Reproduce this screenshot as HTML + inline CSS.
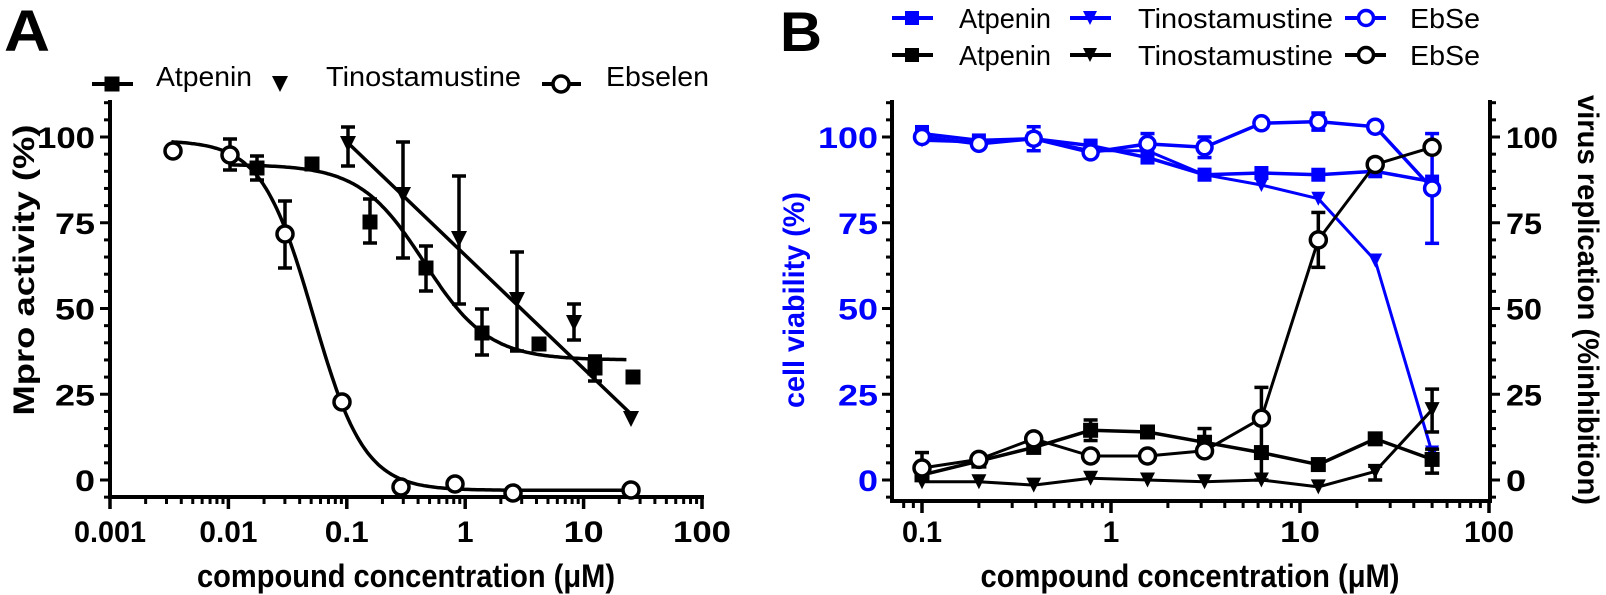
<!DOCTYPE html>
<html><head><meta charset="utf-8"><style>
html,body{margin:0;padding:0;background:#fff;}
svg{display:block;font-family:"Liberation Sans",Arial,sans-serif;}
</style></head><body>
<svg id="s" width="1606" height="595" viewBox="0 0 1606 595" xmlns="http://www.w3.org/2000/svg">
<text x="4" y="51" font-size="58" font-weight="bold" textLength="46" lengthAdjust="spacingAndGlyphs">A</text>
<text x="780" y="51" font-size="56" font-weight="bold" textLength="42" lengthAdjust="spacingAndGlyphs">B</text>
<text x="156" y="86" font-size="28" textLength="96" lengthAdjust="spacingAndGlyphs">Atpenin</text>
<text x="326" y="86" font-size="28" textLength="195" lengthAdjust="spacingAndGlyphs">Tinostamustine</text>
<text x="606" y="86" font-size="28" textLength="103" lengthAdjust="spacingAndGlyphs">Ebselen</text>
<text x="959" y="28" font-size="28" textLength="92" lengthAdjust="spacingAndGlyphs">Atpenin</text>
<text x="1138" y="28" font-size="28" textLength="195" lengthAdjust="spacingAndGlyphs">Tinostamustine</text>
<text x="1410" y="28" font-size="28" textLength="70" lengthAdjust="spacingAndGlyphs">EbSe</text>
<text x="959" y="65" font-size="28" textLength="92" lengthAdjust="spacingAndGlyphs">Atpenin</text>
<text x="1138" y="65" font-size="28" textLength="195" lengthAdjust="spacingAndGlyphs">Tinostamustine</text>
<text x="1410" y="65" font-size="28" textLength="70" lengthAdjust="spacingAndGlyphs">EbSe</text>
<text x="406" y="587" font-size="32" font-weight="bold" text-anchor="middle" textLength="418" lengthAdjust="spacingAndGlyphs">compound concentration (μM)</text>
<text x="1190" y="587" font-size="32" font-weight="bold" text-anchor="middle" textLength="419" lengthAdjust="spacingAndGlyphs">compound concentration (μM)</text>
<text transform="translate(34,270) rotate(-90)" font-size="30" font-weight="bold" text-anchor="middle" textLength="291" lengthAdjust="spacingAndGlyphs">Mpro activity (%)</text>
<text transform="translate(804,300) rotate(-90)" font-size="30" font-weight="bold" fill="#0000ff" text-anchor="middle" textLength="216" lengthAdjust="spacingAndGlyphs">cell viability (%)</text>
<text transform="translate(1578,300) rotate(90)" font-size="30" font-weight="bold" text-anchor="middle" textLength="410" lengthAdjust="spacingAndGlyphs">virus replication (%inhibition)</text>
<g id="g"></g>
</svg>
<script>
var out=[];
function L(x1,y1,x2,y2,c,w){out.push('<line x1="'+x1+'" y1="'+y1+'" x2="'+x2+'" y2="'+y2+'" stroke="'+c+'" stroke-width="'+w+'"/>');}
function T(x,y,s,anc,c,len){out.push('<text x="'+x+'" y="'+y+'" font-size="30" font-weight="bold" text-anchor="'+anc+'" fill="'+c+'"'+(len?' textLength="'+len+'" lengthAdjust="spacingAndGlyphs"':'')+'>'+s+'</text>');}
function P(pts,c,w){out.push('<polyline points="'+pts.map(function(p){return p[0].toFixed(1)+','+p[1].toFixed(1)}).join(' ')+'" fill="none" stroke="'+c+'" stroke-width="'+w+'" stroke-linejoin="round"/>');}
function sq(x,y,s,c){out.push('<rect x="'+(x-s/2)+'" y="'+(y-s/2)+'" width="'+s+'" height="'+s+'" fill="'+c+'"/>');}
function ci(x,y,r,c,w){out.push('<circle cx="'+x+'" cy="'+y+'" r="'+r+'" fill="#fff" stroke="'+c+'" stroke-width="'+w+'"/>');}
function tr(x,y,s,c){out.push('<polygon points="'+(x-s/2)+','+(y-s/2)+' '+(x+s/2)+','+(y-s/2)+' '+x+','+(y+s/2)+'" fill="'+c+'"/>');}
function eb(x,y1,y2,c,w){L(x,y1,x,y2,c,w);L(x-7,y1,x+7,y1,c,w);L(x-7,y2,x+7,y2,c,w);}
var Y=function(v){return 480-3.43*v;};
var AX=function(x){return 110+118.4*(Math.log10(x)+3);};
L(110,100,110,499,'#000',4);L(108,497,704,497,'#000',4);
for(var v=-5;v<=110;v+=5){var maj=(v%25==0&&v>=0);L(maj?100:104,Y(v),110,Y(v),'#000',3);if(maj)T(95,Y(v)+11,v,'end','#000',v==100?58:(v==0?20:40));}
for(var d=-3;d<=2;d++){L(AX(Math.pow(10,d)),497,AX(Math.pow(10,d)),509,'#000',3.5);
 var lab=['0.001','0.01','0.1','1','10','100'][d+3];T(AX(Math.pow(10,d)),542,lab,'middle','#000',[72,58,44,0,40,58][d+3]||null);
 if(d<2)for(var k=2;k<10;k++)L(AX(k*Math.pow(10,d)),497,AX(k*Math.pow(10,d)),504,'#000',3);}
function hill(top,bot,ic,h){return function(x){return bot+(top-bot)/(1+Math.pow(x/ic,h));};}
function curve(f,x0,x1){var p=[];for(var i=0;i<=200;i++){var lx=Math.log10(x0)+(Math.log10(x1)-Math.log10(x0))*i/200;var x=Math.pow(10,lx);p.push([AX(x),Y(f(x))]);}return p;}
P(curve(hill(99,-3,0.052,2),0.0033,25),'#000',3.5);
P(curve(hill(92,35,0.45,1.6),0.01,23),'#000',3.5);
P([[347,142],[631,414]],'#000',3.5);
eb(230,139,170,'#000',3.5);eb(285,201,268,'#000',3.5);
[[173,151],[230,155],[285,234],[342,402],[401,487],[455,484],[513,493],[631,490]].forEach(function(p){ci(p[0],p[1],8,'#000',3.5);});
eb(257,156,180,'#000',3.5);eb(370,199,243,'#000',3.5);eb(426,246,291,'#000',3.5);eb(482,309,355,'#000',3.5);eb(595,356,381,'#000',3.5);
[[257,168],[312,164],[370,222],[426,268],[482,333],[539,344],[595,368],[633,377]].forEach(function(p){sq(p[0],p[1],15,'#000');});
eb(348,127,166,'#000',3.5);eb(403,142,258,'#000',3.5);eb(459,176,304,'#000',3.5);eb(517,252,351,'#000',3.5);eb(574,304,340,'#000',3.5);
[[348,144],[403,195],[459,239],[517,300],[574,323],[631,419]].forEach(function(p){tr(p[0],p[1],16,'#000');});
L(92,84,133,84,'#000',4);sq(112,84,15,'#000');tr(280,84,16,'#000');L(542,84,581,84,'#000',4);ci(561,84,8,'#000',3.5);
var BX=function(x){return 922+189*(Math.log10(x)+1);};
var B='#0000ff';
L(892,100,892,503,'#000',4);L(1490,100,1490,503,'#000',4);L(890,501,1492,501,'#000',4);
for(var v=-5;v<=110;v+=5){var maj=(v%25==0&&v>=0);L(maj?882:886,Y(v),892,Y(v),'#000',3);L(1490,Y(v),maj?1500:1496,Y(v),'#000',3);
 if(maj){T(878,Y(v)+11,v,'end',B,v==100?60:(v==0?20:40));T(1506,Y(v)+11,v,'start','#000',v==100?52:(v==0?20:36));}}
for(var d=-1;d<=2;d++){var xx=BX(Math.pow(10,d));L(xx,501,xx,513,'#000',3.5);T(xx,542,['0.1','1','10','100'][d+1],'middle','#000',[40,0,40,50][d+1]||null);
 if(d<2)for(var k=2;k<10;k++){L(BX(k*Math.pow(10,d)),501,BX(k*Math.pow(10,d)),508,'#000',3);}}
for(var k=8;k<10;k++)L(BX(k*0.01),501,BX(k*0.01),508,'#000',3);
var cx=[0.1,0.2,0.39,0.78,1.56,3.125,6.25,12.5,25,50].map(BX);
function ser(vals){return vals.map(function(v,i){return [cx[i],Y(v)];});}
var bA=[101,99,99.5,97.5,94,89,89.5,89,90,87],bT=[99,98.5,99.5,96,96,89,86,82,64,8],bE=[100,98,99.5,95.5,98,97,104,104.5,103,85];
var kA=[1.5,5.5,9.5,14.5,14,11,8,4.5,12,6],kT=[-0.5,-0.5,-1.5,0.5,0,-0.5,0,-2,2.5,20.5],kE=[3.5,6,12,7,7,8.5,18,70,92,97];
eb(cx[2],Y(96),Y(103),B,3.5);eb(cx[4],Y(93),Y(101),B,3.5);eb(cx[5],Y(94),Y(100),B,3.5);eb(cx[7],Y(102),Y(107),B,3.5);eb(cx[9],Y(69),Y(101),B,3.5);eb(cx[0],Y(99),Y(103),B,3.5);
P(ser(bT),B,3);P(ser(bA),B,3.5);P(ser(bE),B,3.5);
ser(bT).forEach(function(p){tr(p[0],p[1],14,B);});
ser(bA).forEach(function(p){sq(p[0],p[1],14,B);});
ser(bE).forEach(function(p){ci(p[0],p[1],7.5,B,3.5);});
eb(cx[0],Y(0),Y(8),'#000',3.5);eb(cx[3],Y(11.5),Y(17.5),'#000',3.5);eb(cx[5],Y(7),Y(15),'#000',3.5);eb(cx[6],Y(0),Y(27),'#000',3.5);eb(cx[7],Y(62),Y(78),'#000',3.5);eb(cx[8],Y(0),Y(4),'#000',3.5);eb(cx[9],Y(14),Y(26.5),'#000',3.5);eb(cx[9],Y(2),Y(9),'#000',3.5);
P(ser(kT),'#000',3);P(ser(kA),'#000',3.5);P(ser(kE),'#000',3);
ser(kT).forEach(function(p){tr(p[0],p[1],15,'#000');});
ser(kA).forEach(function(p){sq(p[0],p[1],15,'#000');});
ser(kE).forEach(function(p){ci(p[0],p[1],8,'#000',3.5);});
[[18,B],[55,'#000']].forEach(function(r){var y=r[0],c=r[1];L(892,y,933,y,c,4);sq(912,y,14,c);L(1070,y,1111,y,c,4);tr(1090,y,14,c);L(1345,y,1386,y,c,4);ci(1366,y,7.5,c,3.5);});
document.getElementById('g').innerHTML=out.join('');
</script>
</body></html>
